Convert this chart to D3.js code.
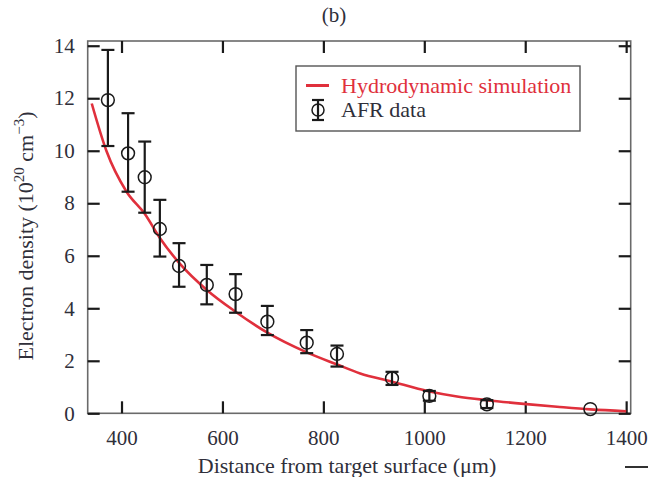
<!DOCTYPE html>
<html><head><meta charset="utf-8">
<script src="https://cdn.jsdelivr.net/npm/d3@7"></script>
<style>body{margin:0;background:#fff}</style>
</head><body>
<svg id="c" width="648" height="477"></svg>
<script>
// AFR data
const afrX   = [373, 413, 446, 476, 514, 569, 626, 689, 767, 827, 936, 1010, 1124, 1329];
const afrY   = [11.93, 9.9, 8.99, 7.02, 5.61, 4.89, 4.54, 3.49, 2.69, 2.26, 1.33, 0.66, 0.34, 0.16];
const afrLo  = [10.18, 8.44, 7.64, 5.97, 4.82, 4.15, 3.83, 2.98, 2.29, 1.78, 1.08, 0.48, 0.2, null];
const afrHi  = [13.84, 11.43, 10.35, 8.13, 6.48, 5.65, 5.30, 4.09, 3.17, 2.58, 1.58, 0.85, 0.5, null];
// Hydrodynamic simulation curve samples
const simX = [341, 370, 410, 446, 476, 515, 569, 626, 689, 767, 827, 873, 933, 1008, 1065, 1124, 1197, 1263, 1329, 1400];
const simY = [11.8, 10.0, 8.44, 7.6, 6.68, 5.71, 4.70, 3.87, 3.07, 2.32, 1.86, 1.52, 1.22, 0.84, 0.64, 0.50, 0.36, 0.25, 0.15, 0.08];
const xTicks = [400, 600, 800, 1000, 1200, 1400];
const yTicks = [0, 2, 4, 6, 8, 10, 12, 14];

const svg = d3.select("#c");
const L = 87.7, R = 630.7, T = 41, B = 413.3;
const x = d3.scaleLinear().domain([333, 1409]).range([L, R]);
const y = d3.scaleLinear().domain([0, 14.18]).range([B, T]);
const font = "'Liberation Serif','Times New Roman',serif";
const txt = "#2f2f3a";

// frame
svg.append("rect").attr("x", L).attr("y", T).attr("width", R - L).attr("height", B - T)
  .attr("fill", "none").attr("stroke", "#6a6a6a").attr("stroke-width", 1.6);

// axes (inward ticks)
const tk = 12;
svg.append("g").attr("transform", `translate(0,${B})`)
  .call(d3.axisBottom(x).tickValues(xTicks).tickSizeInner(-tk).tickSizeOuter(0).tickPadding(17).tickFormat(d3.format("d")))
  .call(g => g.select(".domain").remove());
svg.append("g").attr("transform", `translate(0,${T})`)
  .call(d3.axisTop(x).tickValues(xTicks).tickSizeInner(-tk).tickSizeOuter(0).tickFormat(""))
  .call(g => g.select(".domain").remove());
svg.append("g").attr("transform", `translate(${L},0)`)
  .call(d3.axisLeft(y).tickValues(yTicks).tickSizeInner(-tk).tickSizeOuter(0).tickPadding(13).tickFormat(d3.format("d")))
  .call(g => g.select(".domain").remove());
svg.append("g").attr("transform", `translate(${R},0)`)
  .call(d3.axisRight(y).tickValues(yTicks).tickSizeInner(-tk).tickSizeOuter(0).tickFormat(""))
  .call(g => g.select(".domain").remove());
svg.selectAll(".tick line").attr("stroke", "#1a1a1a").attr("stroke-width", 2.2);
svg.selectAll(".tick text").style("font-family", font).style("font-size", "21px").attr("fill", txt);

// simulation curve
const line = d3.line().x(d => x(d[0])).y(d => y(d[1])).curve(d3.curveMonotoneX);
svg.append("path").datum(simX.map((v, i) => [v, simY[i]]))
  .attr("d", line).attr("fill", "none").attr("stroke", "#e0303c").attr("stroke-width", 2.6);

// AFR data with error bars
const data = afrX.map((v, i) => ({x: v, y: afrY[i], lo: afrLo[i], hi: afrHi[i]}));
const eb = svg.append("g").attr("stroke", "#1a1a1a").attr("stroke-width", 2.2).attr("fill", "none");
const cap = 6.5;
data.filter(d => d.lo !== null).forEach(d => {
  eb.append("line").attr("x1", x(d.x)).attr("x2", x(d.x)).attr("y1", y(d.lo)).attr("y2", y(d.hi));
  eb.append("line").attr("x1", x(d.x) - cap).attr("x2", x(d.x) + cap).attr("y1", y(d.lo)).attr("y2", y(d.lo));
  eb.append("line").attr("x1", x(d.x) - cap).attr("x2", x(d.x) + cap).attr("y1", y(d.hi)).attr("y2", y(d.hi));
});
svg.append("g").selectAll("circle").data(data).join("circle")
  .attr("cx", d => x(d.x)).attr("cy", d => y(d.y)).attr("r", 6.4)
  .attr("fill", "none").attr("stroke", "#1a1a1a").attr("stroke-width", 1.5);

// legend
const lg = svg.append("g");
lg.append("rect").attr("x", 296).attr("y", 66).attr("width", 284).attr("height", 65)
  .attr("fill", "#fff").attr("stroke", "#555").attr("stroke-width", 1.4);
lg.append("line").attr("x1", 306).attr("x2", 329).attr("y1", 85.5).attr("y2", 85.5)
  .attr("stroke", "#e0303c").attr("stroke-width", 3);
lg.append("text").attr("x", 341).attr("y", 93).style("font-family", font).style("font-size", "22px")
  .attr("fill", "#e0303c").text("Hydrodynamic simulation");
const lx = 318, ly = 110;
lg.append("line").attr("x1", lx).attr("x2", lx).attr("y1", ly - 10).attr("y2", ly + 10).attr("stroke", "#1a1a1a").attr("stroke-width", 2.2);
lg.append("line").attr("x1", lx - 6).attr("x2", lx + 6).attr("y1", ly - 10).attr("y2", ly - 10).attr("stroke", "#1a1a1a").attr("stroke-width", 2.2);
lg.append("line").attr("x1", lx - 6).attr("x2", lx + 6).attr("y1", ly + 10).attr("y2", ly + 10).attr("stroke", "#1a1a1a").attr("stroke-width", 2.2);
lg.append("circle").attr("cx", lx).attr("cy", ly).attr("r", 6).attr("fill", "none").attr("stroke", "#1a1a1a").attr("stroke-width", 1.5);
lg.append("text").attr("x", 341).attr("y", 117).style("font-family", font).style("font-size", "22px")
  .attr("fill", txt).text("AFR data");

// titles
svg.append("text").attr("x", 334).attr("y", 22).attr("text-anchor", "middle")
  .style("font-family", font).style("font-size", "21px").attr("fill", txt).text("(b)");
svg.append("text").attr("x", 347).attr("y", 473).attr("text-anchor", "middle")
  .style("font-family", font).style("font-size", "22px").attr("fill", txt).text("Distance from target surface (\u03bcm)");
const yl = svg.append("text").attr("transform", "translate(33,236) rotate(-90)").attr("text-anchor", "middle")
  .style("font-family", font).style("font-size", "22px").attr("fill", txt);
yl.append("tspan").text("Electron density (10");
yl.append("tspan").attr("dy", -9).style("font-size", "15px").text("20");
yl.append("tspan").attr("dy", 9).text(" cm");
yl.append("tspan").attr("dy", -9).style("font-size", "15px").text("\u22123");
yl.append("tspan").attr("dy", 9).text(")");

// small mark at bottom right
svg.append("line").attr("x1", 625).attr("x2", 648).attr("y1", 467).attr("y2", 467)
  .attr("stroke", "#1a1a1a").attr("stroke-width", 1.8);
</script>
</body></html>
